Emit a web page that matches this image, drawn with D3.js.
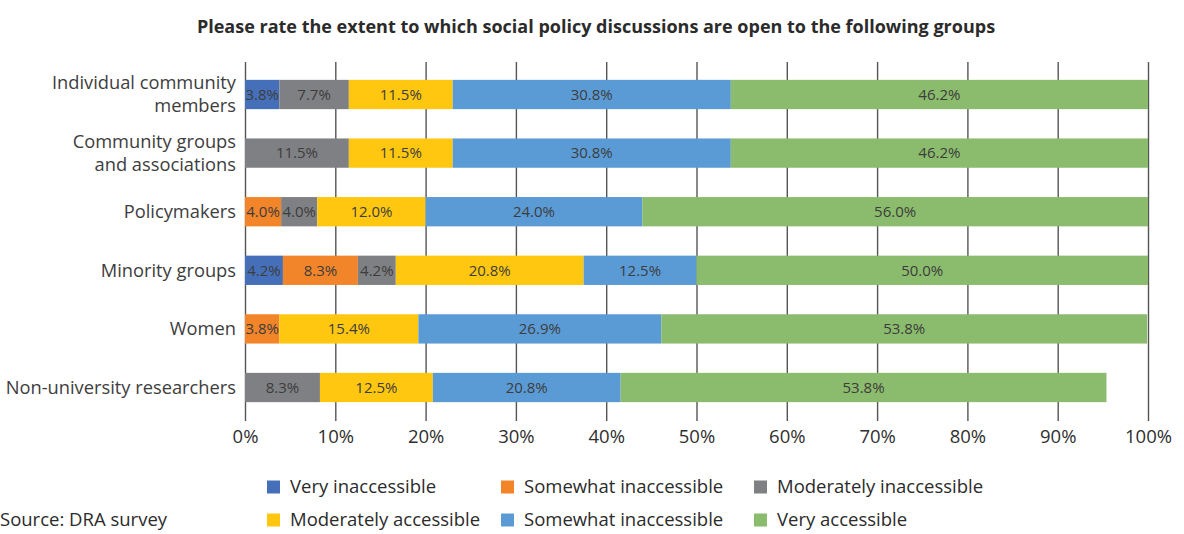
<!DOCTYPE html>
<html>
<head>
<meta charset="utf-8">
<script src="https://cdn.jsdelivr.net/npm/d3@7"></script>
<style>
  html, body { margin: 0; padding: 0; background: #fff; }
  svg { display: block; font-family: "Open Sans", "Noto Sans", sans-serif; }
</style>
</head>
<body>
<svg id="chart" width="1184" height="534"></svg>
<script>
// Survey groups, top to bottom ("\n" marks a line break in the label)
const categories = [
  "Individual community\nmembers",
  "Community groups\nand associations",
  "Policymakers",
  "Minority groups",
  "Women",
  "Non-university researchers"
];

// Share of responses (%) per rating, in the order of the categories
const veryInaccessible       = [3.8, 0,    0,    4.2,  0,    0];
const somewhatInaccessible   = [0,   0,    4.0,  8.3,  3.8,  0];
const moderatelyInaccessible = [7.7, 11.5, 4.0,  4.2,  0,    8.3];
const moderatelyAccessible   = [11.5, 11.5, 12.0, 20.8, 15.4, 12.5];
const somewhatAccessible     = [30.8, 30.8, 24.0, 12.5, 26.9, 20.8];
const veryAccessible         = [46.2, 46.2, 56.0, 50.0, 53.8, 53.8];

const seriesKeys = ["vi", "si", "mi", "ma", "sa", "va"];
const legendLabels = [
  "Very inaccessible", "Somewhat inaccessible", "Moderately inaccessible",
  "Moderately accessible", "Somewhat inaccessible", "Very accessible"
];
const seriesColors = ["#4570b9", "#f2842a", "#7f8083", "#ffc70f", "#5b9bd5", "#8bbb6c"];

const tickValues = [0, 10, 20, 30, 40, 50, 60, 70, 80, 90, 100];
const title = "Please rate the extent to which social policy discussions are open to the following groups";
const source = "Source: DRA survey";

// Build rows for d3.stack
const seriesData = [veryInaccessible, somewhatInaccessible, moderatelyInaccessible,
                    moderatelyAccessible, somewhatAccessible, veryAccessible];
const rows = categories.map((c, i) => {
  const r = { category: c };
  seriesKeys.forEach((k, j) => { r[k] = seriesData[j][i]; });
  return r;
});

const svg = d3.select("#chart");
const textColor = "#3d3d3d";

const x = d3.scaleLinear().domain([0, 100]).range([245, 1148]);
const y = d3.scaleBand().domain(categories).range([65.2, 416.8])
  .paddingInner(0.5).paddingOuter(0.25);
const color = d3.scaleOrdinal().domain(seriesKeys).range(seriesColors);

// Title
svg.append("text")
  .attr("x", 596).attr("y", 33)
  .attr("text-anchor", "middle")
  .attr("font-size", 18).attr("font-weight", "bold")
  .attr("fill", "#2b2b2b")
  .text(title);

// Vertical gridlines and percentage axis (behind the bars)
const gridTop = 62, gridBottom = 421;
const axis = svg.append("g")
  .attr("transform", `translate(0,${gridBottom})`)
  .call(d3.axisBottom(x)
    .tickValues(tickValues)
    .tickFormat(d => d + "%")
    .tickSize(-(gridBottom - gridTop))
    .tickPadding(9));
axis.select(".domain").remove();
axis.selectAll(".tick line").attr("stroke", "#555").attr("stroke-width", 1.4);
axis.selectAll(".tick text")
  .attr("font-family", "\"Open Sans\", sans-serif")
  .attr("font-size", 18.5).attr("fill", "#2f2f2f");

// Stacked bars
const stacked = d3.stack().keys(seriesKeys)(rows);
const layers = svg.append("g").selectAll("g")
  .data(stacked).join("g")
  .attr("fill", d => color(d.key));

layers.selectAll("rect")
  .data(d => d.filter(s => s[1] - s[0] > 0))
  .join("rect")
  .attr("x", d => x(d[0]))
  .attr("y", d => y(d.data.category))
  .attr("width", d => x(d[1]) - x(d[0]))
  .attr("height", y.bandwidth());

// Segment value labels
const fmt = d3.format(".1f");
const labels = svg.append("g");
stacked.forEach(layer => {
  layer.filter(s => s[1] - s[0] > 0).forEach(s => {
    labels.append("text")
      .attr("x", (x(s[0]) + x(s[1])) / 2)
      .attr("y", y(s.data.category) + y.bandwidth() / 2)
      .attr("dy", "0.35em")
      .attr("text-anchor", "middle")
      .attr("font-size", 15)
      .attr("fill", textColor)
      .text(fmt(s[1] - s[0]) + "%");
  });
});

// Category labels
const catG = svg.append("g");
categories.forEach(c => {
  const lines = c.split("\n");
  const cy = y(c) + y.bandwidth() / 2;
  const lh = 23;
  const t = catG.append("text")
    .attr("text-anchor", "end")
    .attr("font-size", 18.3)
    .attr("fill", textColor);
  lines.forEach((ln, i) => {
    t.append("tspan")
      .attr("x", 236)
      .attr("y", cy + (i - (lines.length - 1) / 2) * lh)
      .attr("dy", "0.35em")
      .text(ln);
  });
});

// Legend
const legendCols = [267, 501, 754];
const legendRows = [487, 520];
const legend = svg.append("g");
legendLabels.forEach((lbl, i) => {
  const lx = legendCols[i % 3];
  const ly = legendRows[Math.floor(i / 3)];
  legend.append("rect")
    .attr("x", lx).attr("y", ly - 6.5)
    .attr("width", 13).attr("height", 13)
    .attr("fill", seriesColors[i]);
  legend.append("text")
    .attr("x", lx + 23).attr("y", ly)
    .attr("dy", "0.35em")
    .attr("font-size", 18.5)
    .attr("fill", "#2b2b2b")
    .text(lbl);
});

// Source note
svg.append("text")
  .attr("x", 0).attr("y", 520)
  .attr("dy", "0.35em")
  .attr("font-size", 18.5)
  .attr("fill", "#2b2b2b")
  .text(source);
</script>
</body>
</html>
